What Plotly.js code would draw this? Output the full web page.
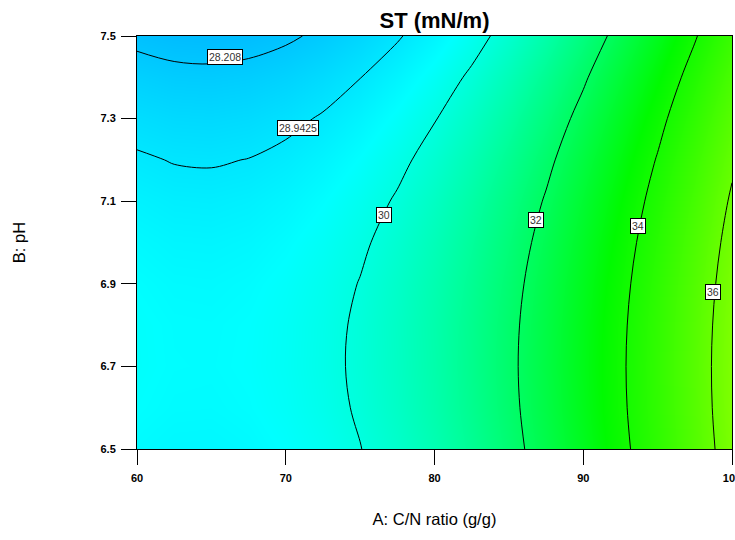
<!DOCTYPE html>
<html>
<head>
<meta charset="utf-8">
<script src="https://cdn.plot.ly/plotly-3.0.1.min.js"></script>
<style>html,body{margin:0;padding:0;background:#fff;}#chart{width:735px;height:540px;}</style>
</head>
<body>
<div id="chart"></div>
<script>
// A: C/N ratio (g/g)
var cnRatio = [60, 62.5, 65, 67.5, 70, 72.5, 75, 77.5, 80, 82.5, 85, 87.5, 90, 92.5, 95, 97.5, 100];
// B: pH
var pH = [6.5, 6.6, 6.7, 6.8, 6.9, 7.0, 7.1, 7.2, 7.3, 7.4, 7.5];
// ST (mN/m), rows follow pH, columns follow cnRatio
var st = [
  [29.415, 29.338, 29.330, 29.391, 29.520, 29.718, 29.985, 30.321, 30.725, 31.198, 31.740, 32.351, 33.030, 33.778, 34.595, 35.481, 36.435],
  [29.508, 29.430, 29.420, 29.479, 29.607, 29.804, 30.070, 30.404, 30.807, 31.279, 31.819, 32.428, 33.106, 33.853, 34.669, 35.553, 36.506],
  [29.550, 29.471, 29.460, 29.518, 29.644, 29.840, 30.104, 30.437, 30.838, 31.309, 31.848, 32.456, 33.132, 33.878, 34.692, 35.575, 36.526],
  [29.542, 29.461, 29.449, 29.505, 29.631, 29.825, 30.087, 30.419, 30.819, 31.288, 31.826, 32.432, 33.108, 33.852, 34.664, 35.546, 36.496],
  [29.484, 29.401, 29.388, 29.443, 29.567, 29.759, 30.021, 30.351, 30.750, 31.217, 31.754, 32.359, 33.033, 33.775, 34.587, 35.467, 36.416],
  [29.375, 29.291, 29.276, 29.330, 29.453, 29.644, 29.904, 30.233, 30.630, 31.096, 31.631, 32.235, 32.908, 33.649, 34.459, 35.338, 36.285],
  [29.216, 29.131, 29.114, 29.167, 29.288, 29.478, 29.736, 30.064, 30.460, 30.925, 31.458, 32.061, 32.732, 33.472, 34.280, 35.158, 36.104],
  [29.006, 28.920, 28.902, 28.953, 29.073, 29.261, 29.518, 29.844, 30.239, 30.703, 31.235, 31.836, 32.506, 33.244, 34.051, 34.927, 35.872],
  [28.746, 28.658, 28.639, 28.689, 28.807, 28.994, 29.250, 29.575, 29.968, 30.430, 30.961, 31.561, 32.229, 32.966, 33.772, 34.647, 35.590],
  [28.436, 28.347, 28.326, 28.374, 28.491, 28.677, 28.932, 29.255, 29.647, 30.108, 30.637, 31.235, 31.902, 32.638, 33.443, 34.316, 35.258],
  [28.075, 27.984, 27.963, 28.009, 28.125, 28.309, 28.563, 28.884, 29.275, 29.734, 30.263, 30.859, 31.525, 32.259, 33.063, 33.934, 34.875]
];
// contour levels and their labels
var levelsMain = [30, 32, 34, 36];
var levelsExtra = [28.208, 28.9425];
var labelText = ["28.208", "28.9425", "30", "32", "34", "36"];
var labelA = [65.9, 70.8, 76.6, 86.8, 93.7, 98.7];
var labelB = [7.449, 7.277, 7.067, 7.054, 7.040, 6.880];

var traces = [];
traces.push({
  type: 'heatmap', x: cnRatio, y: pH, z: st, zsmooth: 'best', showscale: false,
  zmin: 27.9, zmax: 36.6, hoverinfo: 'skip',
  colorscale: [
    [0, 'rgb(0,185,255)'],
    [0.184, 'rgb(0,255,255)'],
    [0.339, 'rgb(0,255,170)'],
    [0.644, 'rgb(0,250,0)'],
    [1, 'rgb(130,255,0)']
  ]
});
traces.push({
  type: 'contour', x: cnRatio, y: pH, z: st, showscale: false, hoverinfo: 'skip',
  contours: {coloring: 'none', start: levelsMain[0], end: levelsMain[levelsMain.length - 1], size: 2},
  line: {color: '#000', width: 1, smoothing: 1}
});
levelsExtra.forEach(function (lv) {
  traces.push({
    type: 'contour', x: cnRatio, y: pH, z: st, showscale: false, hoverinfo: 'skip',
    contours: {coloring: 'none', start: lv, end: lv, size: 1},
    line: {color: '#000', width: 1, smoothing: 1}
  });
});

var annotations = labelText.map(function (t, i) {
  return {
    x: labelA[i], y: labelB[i], xref: 'x', yref: 'y', text: t, showarrow: false,
    font: {family: 'Arial, Liberation Sans, sans-serif', size: 10.5, color: '#333'},
    bgcolor: '#fff', bordercolor: '#000', borderwidth: 1, borderpad: 1
  };
});

var tickFont = {family: 'Arial, Liberation Sans, sans-serif', size: 11, color: '#000', weight: 'bold'};
var axTitleFont = {family: 'Arial, Liberation Sans, sans-serif', size: 16.5, color: '#000'};

var layout = {
  width: 735, height: 540,
  margin: {l: 137, r: 3, t: 36, b: 91},
  paper_bgcolor: '#fff', plot_bgcolor: '#fff',
  showlegend: false,
  title: {text: 'ST (mN/m)', x: 0.5, xref: 'paper', xanchor: 'center', y: 0.963, yref: 'container', yanchor: 'middle',
    font: {family: 'Arial, Liberation Sans, sans-serif', size: 22, color: '#000', weight: 'bold'}},
  xaxis: {
    range: [60, 100], tickvals: [60, 70, 80, 90, 100], ticktext: ['60', '70', '80', '90', '100'],
    ticks: 'outside', ticklen: 15, tickcolor: '#000', tickwidth: 1, ticklabelstandoff: 4,
    ticklabeloverflow: 'allow',
    showline: true, linecolor: '#000', linewidth: 1, mirror: true,
    showgrid: false, zeroline: false, tickfont: tickFont,
    title: {text: 'A: C/N ratio (g/g)', standoff: 30, font: axTitleFont}
  },
  yaxis: {
    range: [6.5, 7.5], tickvals: [6.5, 6.7, 6.9, 7.1, 7.3, 7.5], ticktext: ['6.5', '6.7', '6.9', '7.1', '7.3', '7.5'],
    ticks: 'outside', ticklen: 15, tickcolor: '#000', tickwidth: 1, ticklabelstandoff: 3,
    showline: true, linecolor: '#000', linewidth: 1, mirror: true,
    showgrid: false, zeroline: false, tickfont: tickFont,
    title: {text: 'B: pH', standoff: 70, font: axTitleFont}
  },
  annotations: annotations
};

Plotly.newPlot('chart', traces, layout, {displayModeBar: false, staticPlot: true});
</script>
</body>
</html>
